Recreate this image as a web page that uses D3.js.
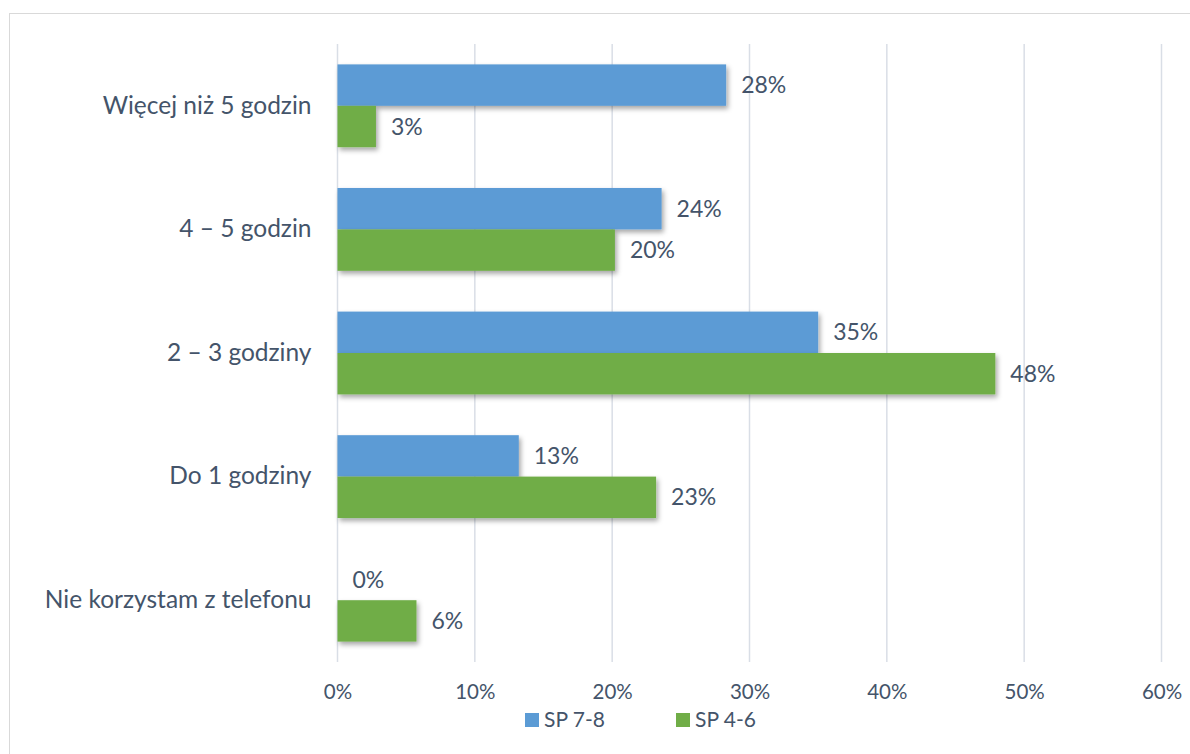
<!DOCTYPE html>
<html><head><meta charset="utf-8">
<script src="https://cdn.jsdelivr.net/npm/d3@7"></script>
<style>body{margin:0;background:#fff}text{font-family:Lato,"Open Sans",sans-serif}</style>
</head><body>
<svg id="c" width="1190" height="754"></svg>
<script>
const categories = ["Więcej niż 5 godzin","4 – 5 godzin","2 – 3 godziny","Do 1 godziny","Nie korzystam z telefonu"];
const seriesNames = ["SP 7-8","SP 4-6"];
const sp78 = [28.3, 23.6, 35.0, 13.2, 0];
const sp46 = [2.8, 20.2, 47.9, 23.2, 5.75];
const labels78 = ["28%","24%","35%","13%","0%"];
const labels46 = ["3%","20%","48%","23%","6%"];
const tickValues = [0,10,20,30,40,50,60];
const colors = ["#5B9BD5","#70AD47"];

const svg = d3.select("#c");
const defs = svg.append("defs");
const f = defs.append("filter").attr("id","sh").attr("x","-10%").attr("y","-20%").attr("width","130%").attr("height","160%");
f.append("feDropShadow").attr("dx",2).attr("dy",3).attr("stdDeviation",2.5).attr("flood-color","#000").attr("flood-opacity",0.35);

svg.append("rect").attr("x",9.5).attr("y",13.5).attr("width",1200).attr("height",760)
  .attr("fill","#fff").attr("stroke","#D9D9D9").attr("stroke-width",1);

const x = d3.scaleLinear().domain([0,60]).range([337.5,1161.5]);
const y = d3.scaleBand().domain(categories).range([44,662]).paddingInner(0.33).paddingOuter(0.165);
const sub = d3.scaleBand().domain(seriesNames).range([0,y.bandwidth()]);
const textColor = "#44546A";
const ff = "Lato,'Open Sans',sans-serif";

// gridlines
svg.append("g").selectAll("line").data(tickValues).join("line")
  .attr("x1",d=>x(d)).attr("x2",d=>x(d)).attr("y1",44).attr("y2",662)
  .attr("stroke","#D9DEE6").attr("stroke-width",1.5);

// axis tick labels
const xAxis = d3.axisBottom(x).tickValues(tickValues).tickFormat(d=>d+"%").tickSize(0);
const ax = svg.append("g").attr("transform","translate(0,681)").call(xAxis);
ax.select(".domain").remove();
ax.selectAll("text").attr("fill",textColor).attr("font-size",20.5).attr("font-family",ff);

// category labels
const yAxis = d3.axisLeft(y).tickSize(0).tickPadding(26);
const ay = svg.append("g").attr("transform","translate(337.5,0)").call(yAxis);
ay.select(".domain").remove();
ay.selectAll("text").attr("fill",textColor).attr("font-size",24.5).attr("font-family",ff);

const data = [];
categories.forEach((c,i)=>{
  data.push({c, s:seriesNames[0], v:sp78[i], l:labels78[i], col:colors[0]});
  data.push({c, s:seriesNames[1], v:sp46[i], l:labels46[i], col:colors[1]});
});

svg.append("g").selectAll("rect").data(data).join("rect")
  .attr("x",x(0)).attr("y",d=>y(d.c)+sub(d.s)).attr("width",d=>x(d.v)-x(0)).attr("height",sub.bandwidth())
  .attr("fill",d=>d.col).attr("filter",d=>d.v>0?"url(#sh)":null);

svg.append("g").selectAll("text").data(data).join("text")
  .attr("x",d=>x(d.v)+15).attr("y",d=>y(d.c)+sub(d.s)+sub.bandwidth()/2)
  .attr("dy","0.35em").attr("fill",textColor).attr("font-size",23).text(d=>d.l);

// legend
const lg = svg.append("g").attr("transform","translate(525,720)");
const items = lg.selectAll("g").data(seriesNames).join("g").attr("transform",(d,i)=>`translate(${i*151},0)`);
items.append("rect").attr("x",0).attr("y",-7).attr("width",14).attr("height",14).attr("fill",(d,i)=>colors[i]);
items.append("text").attr("x",19).attr("y",0).attr("dy","0.35em").attr("font-size",21).attr("fill",textColor).text(d=>d);
</script>
</body></html>
